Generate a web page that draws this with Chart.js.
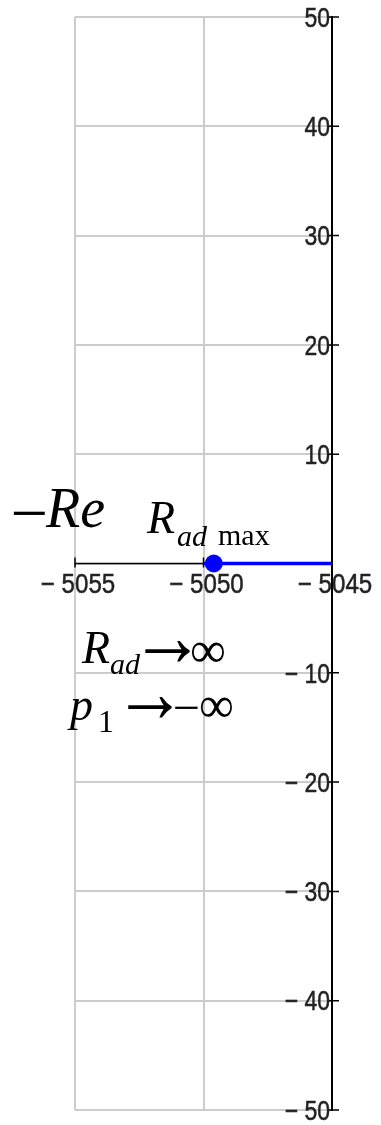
<!DOCTYPE html>
<html><head><meta charset="utf-8">
<script src="https://cdn.jsdelivr.net/npm/chart.js@4"></script>
<style>html,body{margin:0;padding:0;background:#fff;} canvas{display:block;}</style>
</head><body>
<canvas id="c" width="381" height="1125"></canvas>
<script>
// ---- data ----
const xRange = [-5055, -5045];
const yRange = [-50, 50];
const xTickValues = [-5055, -5050, -5045];
const xTickLabels = ["\u2212 5055", "\u2212 5050", "\u2212 5045"];
const yTickValues = [50, 40, 30, 20, 10, -10, -20, -30, -40, -50];
const yTickLabels = ["50", "40", "30", "20", "10", "\u2212 10", "\u2212 20", "\u2212 30", "\u2212 40", "\u2212 50"];
const traceX = [-5050, -5045];
const traceY = [0, 0];
const markerX = [-5049.6];
const markerY = [0];

const traceData = traceX.map((v, i) => ({x: v, y: traceY[i]}));
const markerData = markerX.map((v, i) => ({x: v, y: markerY[i]}));

function txt(ctx, s, x, base, font) {
  ctx.font = font;
  ctx.textAlign = 'left';
  ctx.textBaseline = 'alphabetic';
  ctx.fillText(s, x, base);
}
// draw a glyph so that its ink fills [x0,x1] horizontally, centred at cy with ink height h
function glyph(ctx, s, x0, x1, cy, font, h) {
  ctx.font = font;
  ctx.textAlign = 'left';
  ctx.textBaseline = 'alphabetic';
  const m = ctx.measureText(s);
  const l = m.actualBoundingBoxLeft, r = m.actualBoundingBoxRight;
  const a = m.actualBoundingBoxAscent, d = m.actualBoundingBoxDescent;
  const sx = (x1 - x0) / (l + r);
  const sy = h / (a + d);
  ctx.save(); ctx.translate(x0, cy); ctx.scale(sx, sy);
  ctx.fillText(s, l, (a - d) / 2);
  ctx.restore();
}

const axesPlugin = {
  id: 'axesPlugin',
  beforeDatasetsDraw(chart) {
    const {ctx, scales: {x, y}, chartArea} = chart;
    const y0 = y.getPixelForValue(0);
    const xr = x.getPixelForValue(xRange[1]);
    ctx.save();
    ctx.strokeStyle = '#000';
    ctx.lineWidth = 1.5;
    ctx.beginPath();
    ctx.moveTo(chartArea.left, y0); ctx.lineTo(chartArea.right, y0);
    xTickValues.forEach(v => { const px = x.getPixelForValue(v); ctx.moveTo(px, y0 - 6); ctx.lineTo(px, y0 + 4); });
    ctx.stroke();
    ctx.lineWidth = 2;
    ctx.beginPath();
    ctx.moveTo(xr, chartArea.top - 1); ctx.lineTo(xr, chartArea.bottom + 1);
    ctx.stroke();
    ctx.lineWidth = 1.5;
    ctx.beginPath();
    yTickValues.forEach(v => { const py = y.getPixelForValue(v); ctx.moveTo(xr - 5, py); ctx.lineTo(xr + 7, py); });
    ctx.stroke();
    ctx.restore();
  },
  afterDraw(chart) {
    const {ctx, scales: {x, y}} = chart;
    const y0 = y.getPixelForValue(0);
    const xr = x.getPixelForValue(xRange[1]);
    ctx.save();
    ctx.fillStyle = '#222';
    ctx.strokeStyle = '#222';
    ctx.lineWidth = 0.5;
    ctx.font = '28px "Liberation Sans", Arial, sans-serif';
    ctx.textBaseline = 'middle';
    // y tick labels
    ctx.textAlign = 'right';
    yTickValues.forEach((v, i) => {
      const py = y.getPixelForValue(v);
      ctx.save(); ctx.translate(xr - 2, py + 2); ctx.scale(0.82, 1);
      ctx.fillText(yTickLabels[i], 0, 0); ctx.strokeText(yTickLabels[i], 0, 0); ctx.restore();
    });
    // x tick labels
    ctx.textAlign = 'center';
    xTickValues.forEach((v, i) => {
      const px = x.getPixelForValue(v);
      ctx.save(); ctx.translate(px + 3, y0 + 22); ctx.scale(0.86, 1);
      ctx.fillText(xTickLabels[i], 0, 0); ctx.strokeText(xTickLabels[i], 0, 0); ctx.restore();
    });
    // annotations
    ctx.fillStyle = '#000';
    const serif = '"Liberation Serif", "Times New Roman", serif';
    glyph(ctx, '\u2212', 13, 45, 513, '56px ' + serif, 3.5);
    txt(ctx, 'Re', 46, 527, 'italic 56px ' + serif);
    txt(ctx, 'R', 147, 533, 'italic 46px ' + serif);
    txt(ctx, 'ad', 177, 546, 'italic 30px ' + serif);
    txt(ctx, 'max', 218, 545, '30px ' + serif);
    txt(ctx, 'R', 82, 663, 'italic 46px ' + serif);
    txt(ctx, 'ad', 110, 674, 'italic 30px ' + serif);
    glyph(ctx, '\u2192', 145, 190, 652, '60px ' + serif, 22);
    glyph(ctx, '\u221E', 191, 225, 652, '46px ' + serif, 21);
    txt(ctx, 'p', 70, 720, 'italic 46px ' + serif);
    txt(ctx, '1', 98, 732, '32px ' + serif);
    glyph(ctx, '\u2192', 128, 172, 708, '60px ' + serif, 22);
    glyph(ctx, '\u2212', 175, 198, 707, '46px ' + serif, 3);
    glyph(ctx, '\u221E', 200, 233, 707, '46px ' + serif, 21);
    ctx.restore();
  }
};

new Chart(document.getElementById('c'), {
  type: 'scatter',
  data: {
    datasets: [
      {data: traceData, showLine: true, borderColor: '#0000ff', borderWidth: 3.5, pointRadius: 0, fill: false, order: 2},
      {data: markerData, showLine: false, pointRadius: 9, pointBackgroundColor: '#0000ff', pointBorderWidth: 0, borderColor: '#0000ff', order: 1}
    ]
  },
  options: {
    responsive: false,
    devicePixelRatio: 1,
    animation: false,
    layout: {padding: {left: 75, right: 49, top: 17, bottom: 15}},
    plugins: {legend: {display: false}, tooltip: {enabled: false}},
    scales: {
      x: {type: 'linear', min: xRange[0], max: xRange[1],
          ticks: {stepSize: 5, display: false},
          grid: {color: '#cccccc', lineWidth: 2, drawTicks: false},
          border: {display: false}},
      y: {type: 'linear', min: yRange[0], max: yRange[1],
          ticks: {stepSize: 10, display: false},
          grid: {color: '#cccccc', lineWidth: 2, drawTicks: false},
          border: {display: false}}
    }
  },
  plugins: [axesPlugin]
});
</script>
</body></html>
